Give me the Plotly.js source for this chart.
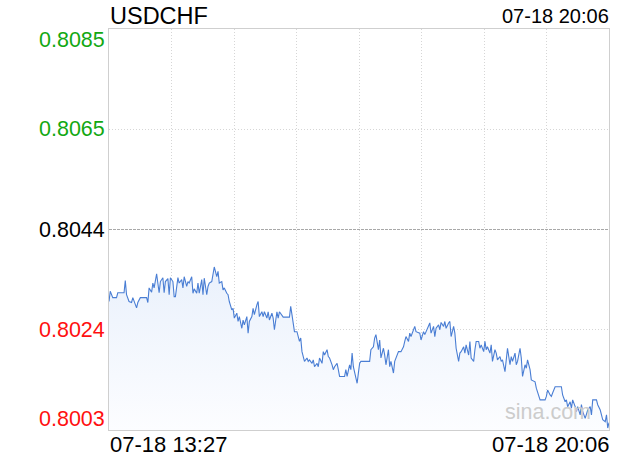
<!DOCTYPE html>
<html>
<head>
<meta charset="utf-8">
<script src="https://cdn.plot.ly/plotly-3.0.1.min.js"></script>
<style>
  html, body { margin: 0; padding: 0; background: #fff; }
  #chart { width: 620px; height: 460px; }
</style>
</head>
<body>
<div id="chart"></div>
<script>
// ---- data ----
const symbol = 'USDCHF';
const startLabel = '07-18 13:27';
const endLabel = '07-18 20:06';
const prevClose = 0.80443;
const halfRange = 0.00412;
const yLabels = ['0.8085', '0.8065', '0.8044', '0.8024', '0.8003'];
const watermark = 'sina.com';

// minutes after 13:27
const minutes = [0,1,3,6,7,12,13,14,16,18,19,21,22,23,25,30,31,32,34,35,36,38,40,41,43,44,45,47,48,49,51,52,53,55,56,58,59,60,62,63,64,66,67,68,70,71,72,74,75,76,78,79,80,82,83,84,86,87,88,90,91,92,94,95,96,98,99,100,102,103,104,106,107,108,110,111,112,114,115,116,118,119,120,122,123,124,126,127,128,130,131,132,134,135,136,139,144,145,146,148,150,151,152,153,154,156,158,159,160,162,163,164,166,167,168,170,171,172,174,175,176,178,179,180,182,183,184,188,189,190,192,193,194,195,197,198,199,200,201,208,209,211,212,213,215,216,217,219,220,221,223,224,225,227,228,229,231,233,235,236,237,239,240,241,243,244,245,247,248,249,251,252,253,255,256,257,259,260,261,263,264,265,267,268,269,271,272,273,275,276,277,279,280,281,283,284,285,287,288,289,291,292,293,295,296,297,299,300,301,302,304,305,306,308,309,310,312,313,314,316,317,318,320,321,322,324,325,326,328,329,330,332,333,334,336,337,340,341,344,348,349,350,352,353,354,356,361,362,364,365,366,368,369,370,372,373,374,376,377,378,380,381,382,384,385,386,389,390,392,393,394,396,397,398,399];

const prices = [0.80295,0.80316,0.80303,0.80303,0.80313,0.80313,0.80338,0.80309,0.80295,0.80293,0.80303,0.80288,0.80282,0.80293,0.80303,0.80303,0.80293,0.80323,0.80314,0.80333,0.80323,0.80352,0.80313,0.80336,0.80344,0.80313,0.80336,0.80342,0.80309,0.80344,0.80336,0.80305,0.80305,0.80344,0.80333,0.80340,0.80323,0.80346,0.80326,0.80336,0.80333,0.80346,0.80312,0.80321,0.80312,0.80333,0.80312,0.80340,0.80309,0.80343,0.80309,0.80326,0.80333,0.80336,0.80353,0.80366,0.80346,0.80357,0.80333,0.80336,0.80319,0.80323,0.80312,0.80309,0.80295,0.80278,0.80281,0.80261,0.80271,0.80254,0.80264,0.80240,0.80257,0.80247,0.80264,0.80230,0.80254,0.80264,0.80281,0.80268,0.80288,0.80295,0.80264,0.80274,0.80264,0.80274,0.80261,0.80274,0.80257,0.80271,0.80261,0.80237,0.80274,0.80261,0.80274,0.80263,0.80263,0.80285,0.80268,0.80233,0.80233,0.80223,0.80213,0.80220,0.80192,0.80172,0.80179,0.80172,0.80175,0.80168,0.80175,0.80161,0.80168,0.80161,0.80179,0.80168,0.80192,0.80185,0.80196,0.80182,0.80179,0.80165,0.80155,0.80161,0.80168,0.80155,0.80141,0.80141,0.80155,0.80141,0.80165,0.80155,0.80189,0.80161,0.80141,0.80127,0.80148,0.80168,0.80172,0.80172,0.80196,0.80202,0.80220,0.80227,0.80196,0.80216,0.80179,0.80199,0.80185,0.80165,0.80196,0.80161,0.80172,0.80148,0.80172,0.80179,0.80192,0.80192,0.80202,0.80213,0.80223,0.80213,0.80230,0.80223,0.80240,0.80244,0.80233,0.80230,0.80230,0.80216,0.80233,0.80227,0.80233,0.80247,0.80251,0.80230,0.80244,0.80223,0.80240,0.80247,0.80237,0.80252,0.80244,0.80254,0.80240,0.80251,0.80254,0.80223,0.80244,0.80230,0.80199,0.80172,0.80189,0.80192,0.80202,0.80189,0.80206,0.80185,0.80213,0.80179,0.80172,0.80196,0.80213,0.80213,0.80199,0.80206,0.80192,0.80213,0.80196,0.80202,0.80189,0.80206,0.80172,0.80196,0.80189,0.80175,0.80182,0.80172,0.80175,0.80151,0.80175,0.80199,0.80165,0.80182,0.80172,0.80189,0.80165,0.80172,0.80199,0.80179,0.80141,0.80165,0.80158,0.80175,0.80155,0.80134,0.80130,0.80117,0.80093,0.80093,0.80100,0.80113,0.80103,0.80100,0.80107,0.80120,0.80120,0.80103,0.80089,0.80093,0.80079,0.80089,0.80076,0.80093,0.80079,0.80069,0.80079,0.80062,0.80083,0.80069,0.80055,0.80065,0.80072,0.80079,0.80062,0.80093,0.80093,0.80083,0.80072,0.80062,0.80052,0.80048,0.80062,0.80035,0.80046];

// ---- chart ----
const FONT = '"Liberation Sans", Arial, Helvetica, sans-serif';
const yMin = prevClose - halfRange;
const yMax = prevClose + halfRange;
const xMax = minutes[minutes.length - 1];
const labelColors = ['#12a812', '#12a812', '#000000', '#ff1010', '#ff1010'];

const trace = {
  type: 'scatter',
  mode: 'lines',
  x: minutes,
  y: prices,
  line: { color: '#4a7ed4', width: 1.1 },
  fill: 'tozeroy',
  fillgradient: {
    type: 'vertical',
    start: yMin,
    stop: Math.max(...prices),
    colorscale: [[0, 'rgba(252,253,255,1)'], [1, 'rgba(234,241,252,1)']]
  },
  hoverinfo: 'skip'
};

const annotations = [];
// y labels
const labelY = [1, 0.75, 0.5, 0.25, 0];
const labelAnchor = ['top', 'middle', 'middle', 'middle', 'bottom'];
const labelShift = [3, 0, 0, 0, -3];
yLabels.forEach((t, i) => {
  annotations.push({
    text: t, xref: 'paper', yref: 'paper', x: 0, y: labelY[i],
    xanchor: 'right', yanchor: labelAnchor[i], xshift: -2, yshift: labelShift[i],
    showarrow: false, font: { family: FONT, size: 21.5, color: labelColors[i] }
  });
});
annotations.push({
  text: symbol, xref: 'paper', yref: 'paper', x: 0, y: 1.032,
  xanchor: 'left', yanchor: 'middle', xshift: -1, showarrow: false,
  font: { family: FONT, size: 23.5, color: '#000' }
});
annotations.push({
  text: endLabel, xref: 'paper', yref: 'paper', x: 1, y: 1.032,
  xanchor: 'right', yanchor: 'middle', xshift: 2, showarrow: false,
  font: { family: FONT, size: 20, color: '#000' }
});
annotations.push({
  text: startLabel, xref: 'paper', yref: 'paper', x: 0, y: -0.037,
  xanchor: 'left', yanchor: 'middle', xshift: -1, showarrow: false,
  font: { family: FONT, size: 22, color: '#000' }
});
annotations.push({
  text: endLabel, xref: 'paper', yref: 'paper', x: 1, y: -0.037,
  xanchor: 'right', yanchor: 'middle', xshift: 2, showarrow: false,
  font: { family: FONT, size: 22, color: '#000' }
});
annotations.push({
  text: watermark, xref: 'paper', yref: 'paper', x: 0.878, y: 0.045,
  xanchor: 'center', yanchor: 'middle', showarrow: false,
  font: { family: FONT, size: 21.5, color: '#cccccc' }
});

const layout = {
  width: 620, height: 460,
  margin: { l: 109, r: 11, t: 29, b: 30, pad: 0 },
  paper_bgcolor: '#ffffff', plot_bgcolor: '#ffffff',
  showlegend: false,
  xaxis: {
    range: [0, xMax], tick0: 0, dtick: xMax / 8,
    showgrid: true, gridcolor: '#d6d6d6', griddash: '1px,2px', gridwidth: 1,
    showticklabels: false, ticks: '', zeroline: false,
    showline: true, mirror: true, linecolor: '#cfcfcf', linewidth: 1,
    fixedrange: true
  },
  yaxis: {
    range: [yMin, yMax],
    tickvals: [yMin + halfRange / 2, yMax - halfRange / 2],
    showgrid: true, gridcolor: '#d6d6d6', griddash: '1px,2px', gridwidth: 1,
    showticklabels: false, ticks: '', zeroline: false,
    showline: true, mirror: true, linecolor: '#cfcfcf', linewidth: 1,
    fixedrange: true
  },
  shapes: [{
    type: 'line', xref: 'paper', yref: 'y', x0: 0, x1: 1, y0: prevClose, y1: prevClose,
    line: { color: '#a8a8a8', width: 1, dash: '3px,1px' }, layer: 'below'
  }],
  annotations: annotations
};

Plotly.newPlot('chart', [trace], layout, { displayModeBar: false, staticPlot: true });
</script>
</body>
</html>
